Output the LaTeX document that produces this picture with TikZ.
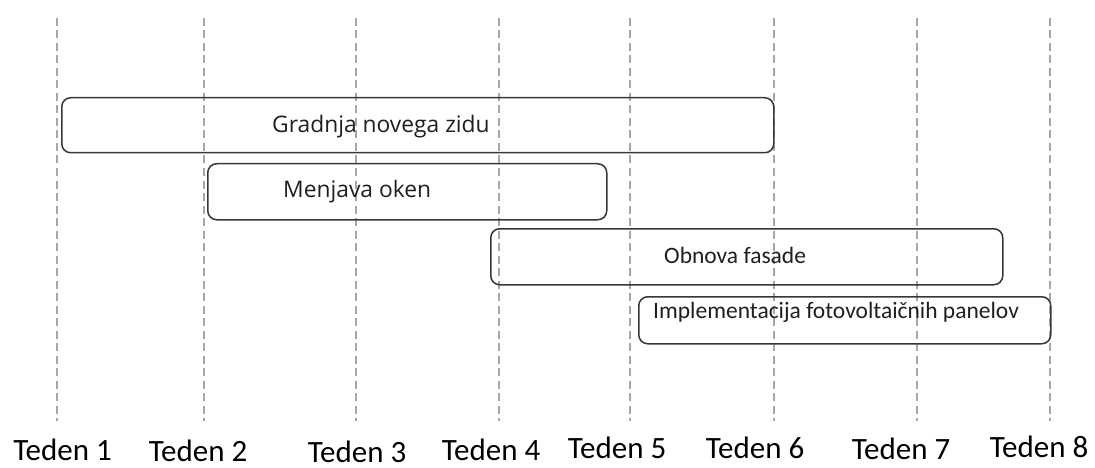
\documentclass[tikz,border=0pt]{standalone}
\usepackage{fontspec}
\setmainfont{Carlito}
\newfontfamily\uifont{Open Sans}
\usepackage{xcolor}
\usepackage{tikz}
\usetikzlibrary{
	positioning,    % posizionamento relativo
	calc            % coordinate calcolate
}
\definecolor{gridgray}{RGB}{160,168,184}
\definecolor{boxgray}{RGB}{55,55,55}

\begin{document}
\begin{tikzpicture}[
		x=1pt, y=-1pt,
		weekline/.style={gridgray, line width=1.7pt, dash pattern=on 8pt off 4.5pt},
		weeklabel/.style={font=\fontsize{31}{36}\selectfont, inner sep=0pt, anchor=base},
		taskbox/.style={draw=boxgray, line width=1.5pt, rounded corners=9pt, anchor=north west, inner sep=0pt},
		uitext/.style={font=\uifont\fontsize{22.8}{27}\selectfont, inner sep=0pt, anchor=base west, text=black!88},
		cbtext/.style={font=\fontsize{23.5}{28}\selectfont, inner sep=0pt, anchor=base west, text=black!88}
	]
	
	% --- Margini ---
	\useasboundingbox (0,0) rectangle (1095,468);
	
	% --- Linee tratteggiate delle settimane ---
	\foreach \x [count=\i] in {57,204,356,499,630,774,917,1050}{
		\coordinate (top\i) at (\x,18);
		\coordinate (bot\i) at (\x,421);
		\draw[weekline] (top\i) -- (bot\i);
	}
	
	% --- Etichette in basso ---
	\foreach \x/\y [count=\i] in {62.5/460,198/461,357/462,491/460,617/458,755/458,901/459,1039/457}{
		\node[weeklabel] (teden\i) at (\x,\y) {Teden \i};
	}
	
	% --- Attivita ---
	\node[taskbox, minimum width=712pt, minimum height=55pt] (zid) at (61,97) {};
	\node[uitext] (zidtxt) at (272,133) {Gradnja novega zidu};
	
	\node[taskbox, minimum width=399pt, minimum height=56pt] (okna) at (207,163) {};
	\node[uitext] (oknatxt) at (283,197) {Menjava oken};
	
	\node[taskbox, minimum width=512pt, minimum height=56pt] (fasada) at (490,228) {};
	\node[cbtext] (fasadatxt) at (664,263) {Obnova fasade};
	
	\node[taskbox, minimum width=412pt, minimum height=47pt] (paneli) at (638,296) {};
	\node[cbtext] (panelitxt) at (653,318) {Implementacija fotovoltaičnih panelov};
	
\end{tikzpicture}
\end{document}
